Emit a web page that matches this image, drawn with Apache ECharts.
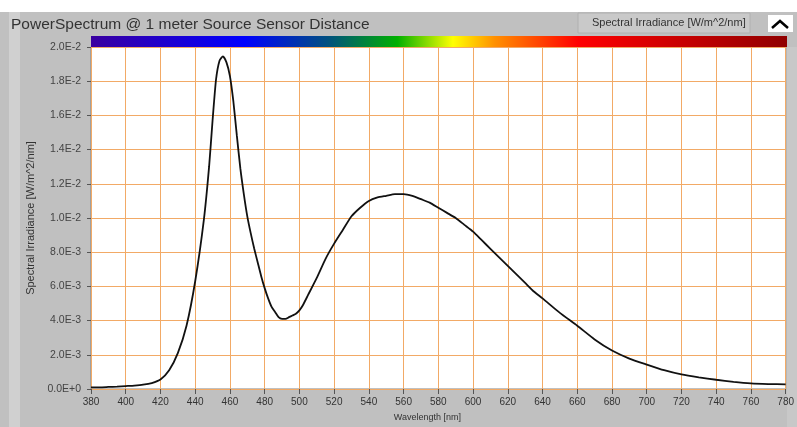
<!DOCTYPE html>
<html>
<head>
<meta charset="utf-8">
<title>PowerSpectrum</title>
<script src="https://cdn.jsdelivr.net/npm/echarts@6/dist/echarts.min.js"></script>
<style>
  html, body { margin: 0; padding: 0; background: #c0c0c0; }
  #chart { width: 797px; height: 427px; }
</style>
</head>
<body>
<div id="chart"></div>
<script>
// wavelength [nm]
var wavelengths = [
  380, 385, 390, 395, 400, 405, 410, 415, 420, 425, 430, 435, 440, 445,
  448, 450, 452, 454, 456, 458, 460, 462, 464, 466, 468, 470, 472, 474,
  476, 478, 480, 482, 484, 486, 488, 490, 492, 494, 496, 498, 500, 502,
  505, 510, 515, 520, 525, 530, 535, 540, 545, 550, 555, 560, 565, 570,
  575, 580, 585, 590, 595, 600, 605, 610, 615, 620, 625, 630, 635, 640,
  650, 660, 670, 680, 690, 700, 710, 720, 730, 740, 750, 760, 770, 780
];
// spectral irradiance [W/m^2/nm]
var irradiance = [
  0.0001, 0.0001, 0.00012, 0.00014, 0.00017, 0.0002, 0.00025, 0.00035, 0.00056, 0.0011, 0.0021, 0.0037, 0.0063, 0.0099,
  0.0130, 0.0157, 0.0181, 0.0192, 0.01945, 0.0191, 0.0183, 0.0168, 0.0148, 0.0129, 0.0114, 0.0101, 0.0091, 0.0082,
  0.0074, 0.0066, 0.0059, 0.0053, 0.0048, 0.0045, 0.0042, 0.0041, 0.0041, 0.0042, 0.0043, 0.0044, 0.0046, 0.0049,
  0.0055, 0.0065, 0.0076, 0.0085, 0.0093, 0.0101, 0.0106, 0.0110, 0.0112, 0.0113, 0.0114, 0.0114, 0.0113, 0.0111,
  0.0109, 0.0106, 0.0103, 0.0100, 0.0096, 0.0092, 0.0087, 0.0082, 0.0077, 0.0072, 0.0067, 0.0062, 0.0057, 0.0053,
  0.00445, 0.0037, 0.0029, 0.00225, 0.00178, 0.00143, 0.0011, 0.00085, 0.00068, 0.00054, 0.00042, 0.00033, 0.00029, 0.00027
];
var yTickLabels = ['0.0E+0', '2.0E-3', '4.0E-3', '6.0E-3', '8.0E-3', '1.0E-2', '1.2E-2', '1.4E-2', '1.6E-2', '1.8E-2', '2.0E-2'];

var points = wavelengths.map(function (w, i) { return [w, irradiance[i]]; });

var chart = echarts.init(document.getElementById('chart'));
var option = {
  backgroundColor: '#c0c0c0',
  animation: false,
  title: {
    text: 'PowerSpectrum @ 1 meter Source Sensor Distance',
    left: 6,
    top: 12,
    textStyle: { fontFamily: 'Liberation Sans', fontSize: 15.5, fontWeight: 'normal', color: '#333' }
  },
  grid: {
    left: 91, right: 10, top: 47, bottom: 33,
    show: true, backgroundColor: '#fff', borderColor: '#808080', borderWidth: 1
  },
  xAxis: {
    type: 'value', min: 380, max: 780, interval: 20,
    name: 'Wavelength [nm]', nameLocation: 'middle', nameGap: 24,
    nameTextStyle: { fontFamily: 'Liberation Sans', fontSize: 9, color: '#333', padding: [0, 22, 0, 0] },
    axisLine: { show: false },
    axisTick: { show: true, length: 5, lineStyle: { color: '#555' } },
    axisLabel: { fontFamily: 'Liberation Sans', fontSize: 10, color: '#333', margin: 8 },
    splitLine: { show: true, lineStyle: { color: '#f2aa66', width: 1 } }
  },
  yAxis: {
    type: 'value', min: 0, max: 0.02, interval: 0.002,
    name: 'Spectral Irradiance [W/m^2/nm]', nameLocation: 'middle', nameGap: 54,
    nameTextStyle: { fontFamily: 'Liberation Sans', fontSize: 11, color: '#333' },
    axisLine: { show: false },
    axisTick: { show: true, length: 4, lineStyle: { color: '#555' } },
    axisLabel: {
      fontFamily: 'Liberation Sans', fontSize: 10.5, color: '#444', margin: 10,
      formatter: function (v, i) { return yTickLabels[i]; }
    },
    splitLine: { show: true, lineStyle: { color: '#f2aa66', width: 1 } }
  },
  graphic: [
    { type: 'rect', shape: { x: 0, y: 0, width: 797, height: 12 }, style: { fill: '#fff' }, silent: true },
    { type: 'rect', shape: { x: 9, y: 12, width: 11, height: 415 }, style: { fill: '#d0d0d0' }, silent: true },
    { type: 'rect', shape: { x: 787, y: 47, width: 10, height: 380 }, style: { fill: '#c8c8c8' }, silent: true },
    {
      type: 'rect', shape: { x: 91, y: 36, width: 696, height: 11 }, silent: true,
      style: {
        fill: new echarts.graphic.LinearGradient(0, 0, 1, 0, [
          { offset: 0, color: '#3a00a0' },
          { offset: 0.22, color: '#0000ff' },
          { offset: 0.34, color: '#005080' },
          { offset: 0.44, color: '#00b000' },
          { offset: 0.52, color: '#ffff00' },
          { offset: 0.58, color: '#ff9000' },
          { offset: 0.70, color: '#ff0000' },
          { offset: 1, color: '#900000' }
        ])
      }
    },
    { type: 'rect', shape: { x: 578, y: 13, width: 172, height: 20 }, style: { fill: '#c9c9c9', stroke: '#b0b0b0' }, silent: true },
    {
      type: 'text', left: 592, top: 17, silent: true,
      style: { text: 'Spectral Irradiance [W/m^2/nm]', fontFamily: 'Liberation Sans', fontSize: 11, fill: '#333' }
    },
    { type: 'rect', shape: { x: 768, y: 15, width: 25, height: 17 }, style: { fill: '#fff' }, silent: true },
    { type: 'polyline', shape: { points: [[772, 28], [780, 21], [788, 28]] }, style: { stroke: '#000', lineWidth: 2.5, fill: null }, silent: true }
  ],
  series: [{
    type: 'line',
    data: points,
    smooth: 0.2,
    showSymbol: false,
    lineStyle: { color: '#111', width: 1.8 }
  }]
};
chart.setOption(option);
</script>
</body>
</html>
